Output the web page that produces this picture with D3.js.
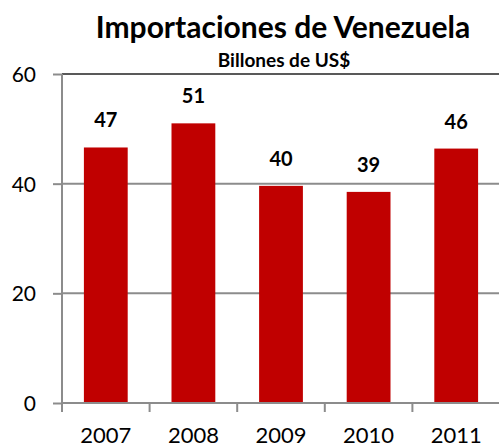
<!DOCTYPE html>
<html><head><meta charset="utf-8">
<script src="https://cdn.jsdelivr.net/npm/d3@7"></script>
<style>body{margin:0;background:#fff}svg{display:block}text{font-family:Lato,"Open Sans",sans-serif}</style>
</head><body><svg id="c" width="499" height="448"></svg>
<script>
const years = ["2007","2008","2009","2010","2011"];
const values = [46.6, 51.0, 39.6, 38.5, 46.4];
const labels = ["47","51","40","39","46"];
const yTicks = [0,20,40,60];

const svg = d3.select("#c");
const m = {l:62, r:499, t:74, b:403};
const x = d3.scaleBand().domain(years).range([m.l, m.r + 1]).paddingInner(0).paddingOuter(0);
const y = d3.scaleLinear().domain([0,60]).range([m.b, m.t]);

// gridlines
svg.append("g").selectAll("line").data(yTicks.filter(d=>d>0)).join("line")
  .attr("x1", m.l).attr("x2", 499).attr("y1", d=>y(d)).attr("y2", d=>y(d))
  .attr("stroke", d=>d===60?"#595959":"#8c8c8c").attr("stroke-width", 2);

// bars
const bw = x.bandwidth()*0.5;
svg.append("g").selectAll("rect").data(values).join("rect")
  .attr("x", (d,i)=>x(years[i]) + (x.bandwidth()-bw)/2)
  .attr("width", bw)
  .attr("y", d=>y(d)).attr("height", d=>y(0)-y(d))
  .attr("fill", "#c00000");

// y axis
const ya = svg.append("g").attr("transform", `translate(${m.l},0)`)
  .call(d3.axisLeft(y).tickValues(yTicks).tickSize(9).tickPadding(0).tickFormat(d3.format("d")));
ya.select(".domain").remove();
ya.selectAll(".tick line").attr("stroke","#8c8c8c").attr("stroke-width",2);
ya.selectAll(".tick text").attr("x", -26).attr("font-size", 21).attr("fill","#000").attr("dy","0.36em");
svg.append("line").attr("x1",m.l).attr("x2",m.l).attr("y1",m.t).attr("y2",m.b+9)
  .attr("stroke","#8c8c8c").attr("stroke-width",2);

// x axis
svg.append("line").attr("x1",m.l).attr("x2",499).attr("y1",m.b).attr("y2",m.b)
  .attr("stroke","#8c8c8c").attr("stroke-width",2);
const bounds = years.map(d=>x(d)).concat([x(years[4])+x.bandwidth()]);
svg.append("g").selectAll("line").data(bounds.slice(1,5)).join("line")
  .attr("x1",d=>d).attr("x2",d=>d).attr("y1",m.b).attr("y2",m.b+9)
  .attr("stroke","#8c8c8c").attr("stroke-width",2);
svg.append("g").selectAll("text").data(years).join("text")
  .attr("x", d=>x(d)+x.bandwidth()/2).attr("y", 443)
  .attr("text-anchor","middle").attr("font-size",22).attr("fill","#000").text(d=>d);

// value labels
svg.append("g").selectAll("text").data(values).join("text")
  .attr("x",(d,i)=>x(years[i])+x.bandwidth()/2).attr("y", d=>y(d)-20)
  .attr("text-anchor","middle").attr("font-size",20).attr("font-weight","bold").attr("fill","#000")
  .text((d,i)=>labels[i]);

// titles
svg.append("text").attr("x",283).attr("y",38).attr("text-anchor","middle")
  .attr("font-size",30).attr("font-weight","bold").attr("fill","#000").text("Importaciones de Venezuela");
svg.append("text").attr("x",284).attr("y",67).attr("text-anchor","middle")
  .attr("font-size",19).attr("font-weight","bold").attr("fill","#000").text("Billones de US$");
</script></body></html>
